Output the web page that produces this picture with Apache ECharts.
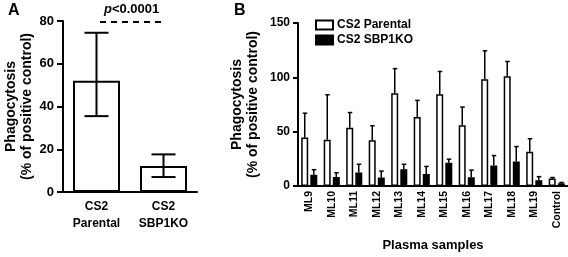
<!DOCTYPE html>
<html>
<head>
<meta charset="utf-8">
<script src="https://cdn.jsdelivr.net/npm/echarts@6/dist/echarts.min.js"></script>
<style>html,body{margin:0;padding:0;background:#fff}#c{width:568px;height:257px}</style>
</head>
<body>
<div id="c"></div>
<script>
// Panel A
const catsA = ['CS2\nParental', 'CS2\nSBP1KO'];
const meanA = [52, 12.2];
const lowA = [35.5, 7];
const highA = [74.5, 17.6];
const ticksA = [0, 20, 40, 60, 80];

// Panel B
const catsB = ['ML9', 'ML10', 'ML11', 'ML12', 'ML13', 'ML14', 'ML15', 'ML16', 'ML17', 'ML18', 'ML19', 'Control'];
const parental = [44.6, 42.6, 53.6, 42, 85.4, 63.4, 84.5, 56, 98.2, 101, 31.5, 6.9];
const parentalUpper = [67, 84, 67.6, 55.4, 108, 78.8, 105.4, 72.6, 124.4, 114.6, 43.5, 7.8];
const ko = [10.4, 8.3, 12.5, 7.8, 15.5, 11, 21.4, 8, 18.8, 22.6, 5.4, 2.5];
const koUpper = [15, 12.2, 20, 13.7, 20, 18, 24.7, 14.6, 28, 36.3, 8.6, 3.2];
const ticksB = [0, 50, 100, 150];

const FONT = 'Liberation Sans, Arial, sans-serif';
const chart = echarts.init(document.getElementById('c'), null, {renderer: 'canvas'});

function errA(params, api) {
  const i = api.value(0);
  const lo = api.coord([i, api.value(1)]);
  const hi = api.coord([i, api.value(2)]);
  const half = 12;
  const st = {stroke: '#000', lineWidth: 2};
  return {type: 'group', children: [
    {type: 'line', shape: {x1: lo[0], y1: lo[1], x2: hi[0], y2: hi[1]}, style: st},
    {type: 'line', shape: {x1: lo[0] - half, y1: lo[1], x2: lo[0] + half, y2: lo[1]}, style: st},
    {type: 'line', shape: {x1: hi[0] - half, y1: hi[1], x2: hi[0] + half, y2: hi[1]}, style: st}
  ]};
}
function errB(side) {
  return function (params, api) {
    const i = api.value(0);
    const m = api.coord([i, api.value(1)]);
    const hi = api.coord([i, api.value(2)]);
    const band = api.size([1, 0])[0];
    const x = m[0] + side * band * 0.2;
    const st = {stroke: '#000', lineWidth: 1.5};
    return {type: 'group', children: [
      {type: 'line', shape: {x1: x, y1: m[1], x2: x, y2: hi[1]}, style: st},
      {type: 'line', shape: {x1: x - 2, y1: hi[1], x2: x + 2.5, y2: hi[1]}, style: st}
    ]};
  };
}

const axisTxt = {color: '#000', fontWeight: 'bold', fontFamily: FONT};

chart.setOption({
  animation: false,
  textStyle: {fontFamily: FONT},
  grid: [
    {left: 63, top: 21, width: 134, bottom: 65},
    {left: 298, top: 23, right: 0, bottom: 66}
  ],
  legend: {
    left: 315, top: 19, orient: 'vertical', icon: 'rect', padding: 0,
    itemWidth: 17, itemHeight: 9, itemGap: 3,
    data: ['CS2 Parental', 'CS2 SBP1KO'],
    textStyle: {color: '#000', fontWeight: 'bold', fontSize: 12, fontFamily: FONT, padding: [0, 0, 0, -1]}
  },
  xAxis: [
    {type: 'category', gridIndex: 0, data: catsA,
     axisLine: {lineStyle: {color: '#000', width: 2}}, axisTick: {show: false},
     axisLabel: Object.assign({fontSize: 12, margin: 6, lineHeight: 17}, axisTxt)},
    {type: 'category', gridIndex: 1, data: catsB,
     name: 'Plasma samples', nameLocation: 'middle', nameGap: 53,
     nameTextStyle: Object.assign({fontSize: 13}, axisTxt),
     axisLine: {lineStyle: {color: '#000', width: 2}}, axisTick: {show: false},
     axisLabel: Object.assign({fontSize: 10.5, margin: 5, rotate: 90, interval: 0}, axisTxt)}
  ],
  yAxis: [
    {type: 'value', gridIndex: 0, min: ticksA[0], max: ticksA[ticksA.length - 1], interval: 20,
     name: 'Phagocytosis\n(% of positive control)', nameLocation: 'middle', nameRotate: 90, nameGap: 28,
     nameTextStyle: Object.assign({fontSize: 14, lineHeight: 16}, axisTxt),
     axisLine: {show: true, lineStyle: {color: '#000', width: 2}},
     axisTick: {show: true, length: 6, lineStyle: {width: 2}},
     splitLine: {show: false},
     axisLabel: Object.assign({fontSize: 13, margin: 9}, axisTxt)},
    {type: 'value', gridIndex: 1, min: ticksB[0], max: ticksB[ticksB.length - 1], interval: 50,
     name: 'Phagocytosis\n(% of positive control)', nameLocation: 'middle', nameRotate: 90, nameGap: 37,
     nameTextStyle: Object.assign({fontSize: 14, lineHeight: 16}, axisTxt),
     axisLine: {show: true, lineStyle: {color: '#000', width: 2}},
     axisTick: {show: true, length: 5, lineStyle: {width: 2}},
     splitLine: {show: false},
     axisLabel: Object.assign({fontSize: 12, margin: 8}, axisTxt)}
  ],
  graphic: [
    {type: 'text', left: 8, top: 3, style: {text: 'A', font: 'bold 16px ' + FONT, fill: '#000'}},
    {type: 'text', left: 234, top: 3, style: {text: 'B', font: 'bold 16px ' + FONT, fill: '#000'}},
    {type: 'text', left: 104, top: 3, style: {
      text: '{i|p}{n|<0.0001}',
      rich: {i: {fontStyle: 'italic', fontWeight: 'bold', fontSize: 13, fontFamily: FONT, fill: '#000'},
             n: {fontWeight: 'bold', fontSize: 13, fontFamily: FONT, fill: '#000'}}}},
    {type: 'line', shape: {x1: 100, y1: 22, x2: 164, y2: 22},
     style: {stroke: '#000', lineWidth: 2, lineDash: [6, 5]}}
  ],
  series: [
    {type: 'bar', xAxisIndex: 0, yAxisIndex: 0, data: meanA, barWidth: 47,
     itemStyle: {color: '#fff', borderColor: '#000', borderWidth: 2}, z: 2},
    {type: 'custom', xAxisIndex: 0, yAxisIndex: 0, renderItem: errA, z: 5,
     data: catsA.map((c, i) => [i, lowA[i], highA[i]])},
    {type: 'bar', name: 'CS2 Parental', xAxisIndex: 1, yAxisIndex: 1, data: parental,
     barWidth: 7, barGap: '30%',
     itemStyle: {color: '#fff', borderColor: '#000', borderWidth: 1.5}, z: 2},
    {type: 'bar', name: 'CS2 SBP1KO', xAxisIndex: 1, yAxisIndex: 1, data: ko,
     barWidth: 7, barGap: '30%',
     itemStyle: {color: '#000', borderColor: '#000', borderWidth: 1.5}, z: 2},
    {type: 'custom', xAxisIndex: 1, yAxisIndex: 1, renderItem: errB(-1), z: 5,
     data: catsB.map((c, i) => [i, parental[i], parentalUpper[i]])},
    {type: 'custom', xAxisIndex: 1, yAxisIndex: 1, renderItem: errB(1), z: 5,
     data: catsB.map((c, i) => [i, ko[i], koUpper[i]])}
  ]
});
</script>
</body>
</html>
